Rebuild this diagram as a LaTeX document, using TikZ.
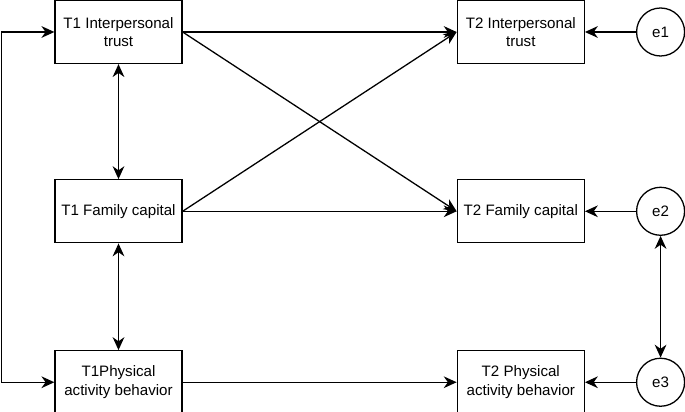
\documentclass[tikz,border=0pt]{standalone}
\usepackage{fontspec}
\setmainfont{Liberation Sans}
\usetikzlibrary{arrows.meta}
\usetikzlibrary{positioning}

\begin{document}
\begin{tikzpicture}[->,>={Stealth[length=11pt,width=10pt,inset=3.5pt]},auto,line width=1.1pt,
	var/.style={rectangle,draw,minimum width=3.81cm,minimum height=1.89cm,align=center,inner sep=0pt,font=\fontsize{12.9}{16}\selectfont},
	err/.style={circle,draw,minimum size=1.44cm,inner sep=0pt,font=\fontsize{12.9}{16}\selectfont}]
	\useasboundingbox (0,0) rectangle (20.55,12.36);
	% time 1
	\node[var] (it1) at (3.555,11.4) {T1 Interpersonal\\trust};
	\node[var,below=3.45cm of it1] (fc1) {T1 Family capital};
	\node[var,below=3.2cm of fc1] (pa1) {T1Physical\\activity behavior};
	% time 2
	\node[var,right=8.22cm of it1] (it2) {T2 Interpersonal\\trust};
	\node[var,right=8.22cm of fc1] (fc2) {T2 Family capital};
	\node[var,right=8.22cm of pa1] (pa2) {T2 Physical\\activity behavior};
	% errors
	\node[err,right=1.53cm of it2] (e1) {e1};
	\node[err,right=1.53cm of fc2] (e2) {e2};
	\node[err,right=1.53cm of pa2] (e3) {e3};
	\path 	(it1.east)	edge	(it2.west)
				edge	(fc2.west)
		(fc1.east)	edge	(it2.west)
				edge	(fc2.west)
		(pa1)	edge	(pa2)
		(e1)	edge	(it2)
		(e2)	edge	(fc2)
		(e3)	edge	(pa2)
		(it1)	edge[<->]	(fc1)
		(fc1)	edge[<->]	(pa1)
		(e2)	edge[<->]	(e3);
	\draw[<->] (it1.west) -- ++(-1.59,0) |- (pa1.west);
\end{tikzpicture}
\end{document}
